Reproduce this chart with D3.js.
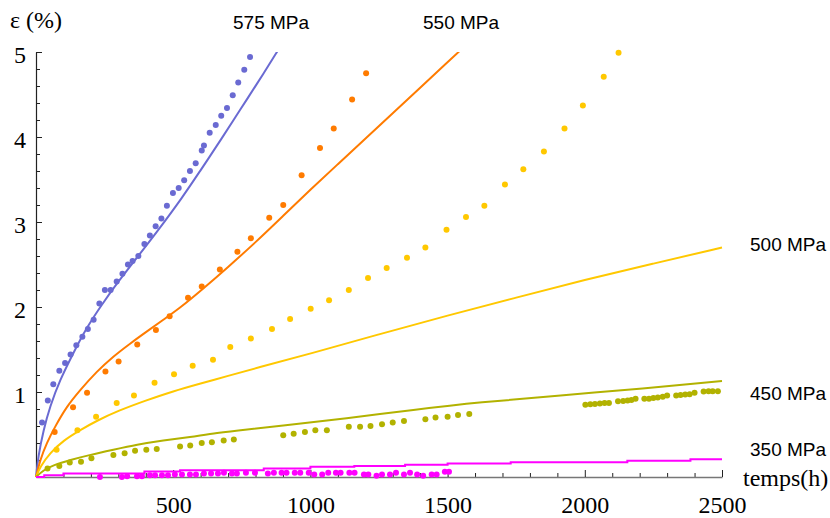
<!DOCTYPE html>
<html>
<head>
<meta charset="utf-8">
<script src="https://cdn.jsdelivr.net/npm/d3@7"></script>
<style>
  html, body { margin: 0; padding: 0; background: #fff; }
  svg { display: block; }
  .serif { font-family: 'Liberation Serif', 'Times New Roman', 'DejaVu Serif', serif !important; }
  .sans { font-family: 'Liberation Sans', Arial, 'DejaVu Sans', sans-serif; }
</style>
</head>
<body>
<svg id="chart" width="830" height="518"></svg>
<script>
// ---------------- DATA ----------------
const xTickLabels = [500, 1000, 1500, 2000, 2500];
const yTickLabels = [1, 2, 3, 4, 5];
const seriesNames = ["575 MPa", "550 MPa", "500 MPa", "450 MPa", "350 MPa"];
const seriesColors = ["#6a6ad2", "#ff7b00", "#ffc800", "#b2b200", "#ff00ff"];

// experimental points [time h, strain %]
const pts575 = [[22,0.64],[43,0.90],[63,1.09],[85,1.25],[106,1.34],[126,1.44],[147,1.55],[169,1.65],[189,1.74],[210,1.85],[231,2.04],[251,2.20],[272,2.20],[294,2.30],[315,2.39],[335,2.50],[352,2.54],[373,2.60],[395,2.74],[415,2.84],[436,2.95],[457,3.04],[477,3.19],[499,3.34],[520,3.40],[540,3.49],[561,3.60],[582,3.69],[604,3.84],[612,3.90],[633,4.05],[655,4.14],[675,4.25],[696,4.34],[717,4.49],[737,4.64],[759,4.79],[780,4.94]];
const pts550 = [[68,0.53],[135,0.82],[186,0.99],[253,1.24],[301,1.36],[369,1.56],[437,1.73],[487,1.89],[554,2.11],[604,2.24],[670,2.44],[734,2.65],[783,2.81],[850,3.05],[901,3.20],[968,3.55],[1035,3.87],[1085,4.10],[1152,4.44],[1203,4.75]];
const pts500 = [[75,0.32],[151,0.55],[219,0.71],[294,0.87],[357,0.96],[432,1.11],[503,1.21],[571,1.31],[645,1.38],[708,1.53],[783,1.63],[860,1.74],[926,1.86],[1001,1.98],[1068,2.08],[1140,2.20],[1210,2.34],[1278,2.46],[1352,2.58],[1419,2.70],[1496,2.91],[1567,3.06],[1634,3.19],[1709,3.44],[1776,3.62],[1851,3.83],[1926,4.10],[1993,4.37],[2069,4.71],[2123,4.99]];
const pts450 = [[42,0.10],[85,0.13],[123,0.17],[164,0.18],[202,0.22],[282,0.26],[323,0.28],[361,0.31],[402,0.32],[440,0.33],[525,0.36],[562,0.37],[604,0.40],[641,0.41],[684,0.43],[721,0.44],[901,0.49],[939,0.51],[980,0.53],[1018,0.55],[1060,0.55],[1140,0.59],[1181,0.59],[1219,0.60],[1261,0.62],[1300,0.64],[1341,0.66],[1419,0.68],[1456,0.70],[1500,0.71],[1538,0.73],[1579,0.74],[2002,0.85],[2020,0.855],[2037,0.86],[2055,0.865],[2072,0.87],[2088,0.87],[2121,0.89],[2140,0.895],[2156,0.90],[2170,0.905],[2185,0.92],[2217,0.92],[2234,0.92],[2250,0.93],[2266,0.935],[2284,0.945],[2300,0.96],[2333,0.96],[2349,0.965],[2366,0.97],[2382,0.975],[2400,0.99],[2433,1.005],[2451,1.01],[2466,1.01],[2485,1.01]];
const pts350 = [[233,0.00],[313,0.00],[332,0.01],[368,0.01],[386,0.01],[415,0.02],[434,0.02],[459,0.02],[481,0.02],[506,0.03],[532,0.03],[561,0.03],[583,0.03],[612,0.04],[638,0.04],[663,0.04],[685,0.05],[714,0.04],[732,0.04],[765,0.05],[798,0.05],[845,0.04],[867,0.05],[895,0.05],[913,0.05],[943,0.05],[963,0.05],[994,0.05],[1014,0.03],[1043,0.03],[1065,0.05],[1093,0.05],[1110,0.05],[1142,0.05],[1161,0.05],[1195,0.03],[1211,0.03],[1241,0.016],[1261,0.03],[1290,0.03],[1312,0.05],[1341,0.03],[1363,0.05],[1389,0.03],[1411,0.016],[1442,0.03],[1460,0.03],[1490,0.063],[1505,0.063]];

// model curves [time h, strain %]
const line575 = [[0,0],[8,0.24],[27,0.55],[51,0.83],[87,1.14],[136,1.46],[185,1.76],[240,2.03],[300,2.30],[370,2.59],[440,2.88],[536,3.30],[600,3.61],[658,3.89],[720,4.20],[768,4.44],[830,4.75],[880,5.01]];
const line550 = [[0,0],[15,0.20],[39,0.40],[69,0.59],[112,0.83],[160,1.02],[221,1.24],[282,1.42],[343,1.57],[403,1.71],[464,1.85],[525,1.99],[600,2.19],[700,2.47],[800,2.76],[900,3.07],[1000,3.38],[1100,3.68],[1200,3.98],[1300,4.28],[1400,4.58],[1500,4.88],[1550,5.03]];
const line500 = [[0,0],[15,0.12],[50,0.28],[100,0.43],[160,0.55],[220,0.66],[300,0.78],[400,0.90],[500,1.01],[600,1.10],[700,1.19],[800,1.28],[1000,1.45],[1250,1.68],[1500,1.90],[1750,2.11],[2000,2.32],[2250,2.51],[2500,2.70]];
const line450 = [[0,0],[27,0.08],[63,0.14],[124,0.20],[197,0.26],[282,0.32],[367,0.38],[464,0.43],[561,0.47],[658,0.52],[768,0.56],[889,0.60],[1132,0.69],[1375,0.79],[1618,0.88],[1910,0.96],[2213,1.04],[2500,1.13]];
const line350 = [[0,0],[30,0.02],[100,0.04],[395,0.065],[525,0.08],[830,0.10],[1000,0.12],[1160,0.13],[1345,0.145],[1500,0.16],[1730,0.175],[2155,0.19],[2385,0.21],[2500,0.21]];

const allPoints = [pts575, pts550, pts500, pts450, pts350];
const allLines = [line575, line550, line500, line450, line350];

// ---------------- DRAW ----------------
const svg = d3.select("#chart");
const x = d3.scaleLinear().domain([0, 2500]).range([36, 722]);
const y = d3.scaleLinear().domain([0, 5]).range([477, 52]);

svg.append("defs").append("clipPath").attr("id", "plotclip")
  .append("rect").attr("x", 30).attr("y", y(5)).attr("width", 700).attr("height", y(0) - y(5) + 6);

const fmt = d3.format("d");

// x minor ticks
const xMinor = d3.range(100, 2501, 100).filter(v => v % 500 !== 0);
svg.append("g").attr("transform", `translate(0,${y(0)})`)
  .call(d3.axisBottom(x).tickValues(xMinor).tickSizeInner(-4).tickSizeOuter(0).tickFormat(""))
  .call(g => g.select(".domain").remove())
  .call(g => g.selectAll("line").attr("stroke", "#222"));
// x major
svg.append("g").attr("transform", `translate(0,${y(0)})`)
  .call(d3.axisBottom(x).tickValues(xTickLabels).tickFormat(fmt).tickSizeInner(-7).tickSizeOuter(0))
  .call(g => g.select(".domain").attr("stroke", "#777").attr("stroke-width", 1.6))
  .call(g => g.selectAll("line").attr("stroke", "#222"))
  .call(g => g.selectAll("text").attr("y", 36).attr("dy", null).attr("class", "serif")
      .style("font-size", "24px").attr("fill", "#000"));

// y minor
const yMinor = d3.range(0.2, 5.01, 0.2).filter(v => Math.abs(v - Math.round(v)) > 1e-6);
svg.append("g").attr("transform", `translate(${x(0)},0)`)
  .call(d3.axisLeft(y).tickValues(yMinor).tickSizeInner(-4).tickSizeOuter(0).tickFormat(""))
  .call(g => g.select(".domain").remove())
  .call(g => g.selectAll("line").attr("stroke", "#222"));
// y major
svg.append("g").attr("transform", `translate(${x(0)},0)`)
  .call(d3.axisLeft(y).tickValues(yTickLabels).tickFormat(fmt).tickSizeInner(-6).tickSizeOuter(0))
  .call(g => g.select(".domain").attr("stroke", "#222").attr("stroke-width", 1.2))
  .call(g => g.selectAll("line").attr("stroke", "#222"))
  .call(g => g.selectAll("text").attr("x", -10).attr("dy", 10).attr("class", "serif")
      .style("font-size", "24px").attr("fill", "#000"));

// model lines
const lineGen = d3.line().x(d => x(d[0])).y(d => y(d[1])).curve(d3.curveBasis);
const stepGen = d3.line().x(d => x(d[0])).y(d => y(d[1])).curve(d3.curveStepAfter);
const plot = svg.append("g").attr("clip-path", "url(#plotclip)");
allLines.forEach((ln, i) => {
  plot.append("path").datum(ln)
    .attr("d", i === 4 ? stepGen : lineGen)
    .attr("fill", "none").attr("stroke", seriesColors[i]).attr("stroke-width", 2);
});

// points
allPoints.forEach((pts, i) => {
  svg.append("g").selectAll("circle").data(pts).join("circle")
    .attr("cx", d => x(d[0])).attr("cy", d => y(d[1]))
    .attr("r", 3).attr("fill", seriesColors[i]);
});

// series labels
const labelPos = [[233, 29], [423, 29], [750, 251], [750, 400], [750, 456]];
seriesNames.forEach((name, i) => {
  svg.append("text").attr("class", "sans").attr("x", labelPos[i][0]).attr("y", labelPos[i][1])
    .style("font-size", "19px").attr("fill", "#000").text(name);
});

// axis titles
svg.append("text").attr("class", "serif").attr("x", 10).attr("y", 28)
  .style("font-size", "24px").attr("fill", "#000").text("ε (%)");
svg.append("text").attr("class", "serif").attr("x", 743).attr("y", 486)
  .style("font-size", "24px").attr("fill", "#000").text("temps(h)");
</script>
</body>
</html>
